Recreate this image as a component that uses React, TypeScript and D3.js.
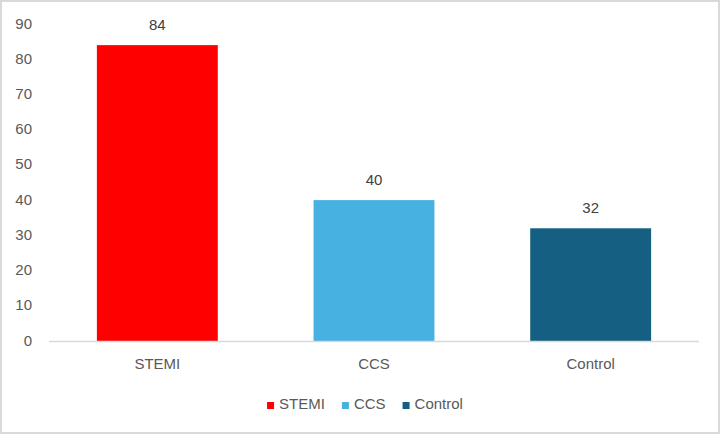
import { useRef, useEffect } from "react";
import * as d3 from "d3";

const categories = ["STEMI", "CCS", "Control"];
const values = [84, 40, 32];
const colors = ["#FF0000", "#47B1E1", "#156082"];
const yTicks = [0, 10, 20, 30, 40, 50, 60, 70, 80, 90];

const WIDTH = 722;
const HEIGHT = 436;
const PLOT = { left: 49, right: 699, top: 24, bottom: 341 };
const FONT = "'Liberation Sans', Arial, sans-serif";
const TEXT = "#595959";

export default function App() {
  const svgRef = useRef<SVGSVGElement>(null);

  useEffect(() => {
    const svg = d3.select(svgRef.current);
    svg.selectAll("*").remove();

    // Chart border
    svg
      .append("rect")
      .attr("x", 1)
      .attr("y", 1)
      .attr("width", 718)
      .attr("height", 432)
      .attr("fill", "#fff")
      .attr("stroke", "#d9d9d9")
      .attr("stroke-width", 2);

    const x = d3
      .scaleBand<string>()
      .domain(categories)
      .range([PLOT.left, PLOT.right])
      .paddingInner(0.442)
      .paddingOuter(0.221);
    const y = d3.scaleLinear().domain([0, 90]).range([PLOT.bottom, PLOT.top]);

    // Y tick labels
    svg
      .append("g")
      .selectAll("text")
      .data(yTicks)
      .join("text")
      .attr("x", 32)
      .attr("y", (d) => y(d))
      .attr("dy", "0.3em")
      .attr("text-anchor", "end")
      .attr("font-family", FONT)
      .attr("font-size", 15)
      .attr("fill", TEXT)
      .text((d) => d);

    // Bars
    svg
      .append("g")
      .selectAll("rect")
      .data(categories)
      .join("rect")
      .attr("x", (d) => x(d)!)
      .attr("y", (_, i) => y(values[i]))
      .attr("width", x.bandwidth())
      .attr("height", (_, i) => y(0) - y(values[i]))
      .attr("fill", (_, i) => colors[i]);

    // Baseline
    svg
      .append("line")
      .attr("x1", PLOT.left)
      .attr("x2", PLOT.right)
      .attr("y1", y(0) + 0.5)
      .attr("y2", y(0) + 0.5)
      .attr("stroke", "#d9d9d9")
      .attr("stroke-width", 1.5);

    // Value labels
    svg
      .append("g")
      .selectAll("text")
      .data(categories)
      .join("text")
      .attr("x", (d) => x(d)! + x.bandwidth() / 2)
      .attr("y", (_, i) => y(values[i]) - 15)
      .attr("text-anchor", "middle")
      .attr("font-family", FONT)
      .attr("font-size", 15)
      .attr("fill", "#404040")
      .text((_, i) => values[i]);

    // Category labels
    svg
      .append("g")
      .selectAll("text")
      .data(categories)
      .join("text")
      .attr("x", (d) => x(d)! + x.bandwidth() / 2)
      .attr("y", 369)
      .attr("text-anchor", "middle")
      .attr("font-family", FONT)
      .attr("font-size", 15)
      .attr("fill", TEXT)
      .text((d) => d);

    // Legend
    const legend = svg.append("g");
    let cursor = 0;
    categories.forEach((c, i) => {
      const item = legend.append("g").attr("transform", `translate(${cursor},0)`);
      item.append("rect").attr("x", 0).attr("y", 402).attr("width", 7).attr("height", 7).attr("fill", colors[i]);
      const t = item
        .append("text")
        .attr("x", 12)
        .attr("y", 409)
        .attr("font-family", FONT)
        .attr("font-size", 15)
        .attr("fill", TEXT)
        .text(c);
      const w = (t.node() as SVGTextElement).getComputedTextLength();
      cursor += 12 + w + 17;
    });
    const total = cursor - 17;
    legend.attr("transform", `translate(${365 - total / 2},0)`);
  }, []);

  return (
    <div style={{ position: "fixed", left: 0, top: 0 }}>
      <svg ref={svgRef} width={WIDTH} height={HEIGHT} viewBox={`0 0 ${WIDTH} ${HEIGHT}`} style={{ display: "block" }} />
    </div>
  );
}
